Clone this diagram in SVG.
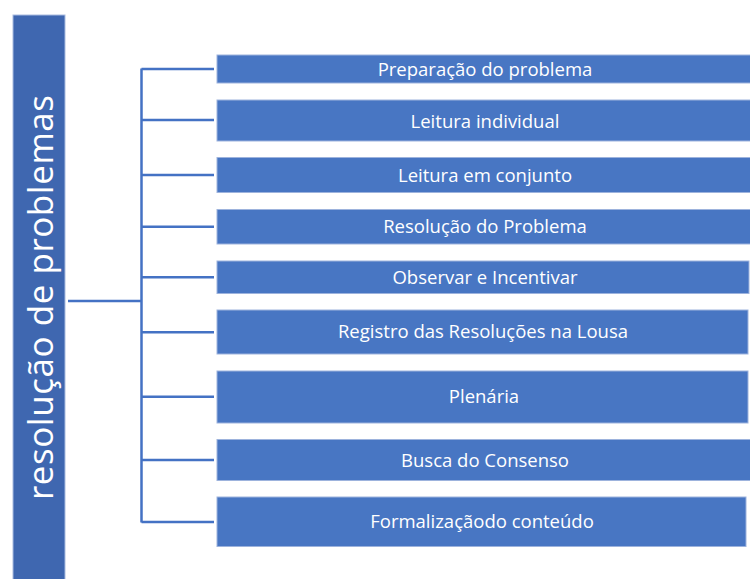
<svg xmlns="http://www.w3.org/2000/svg" width="750" height="579" viewBox="0 0 750 579">
<style>
.box{fill:#4876C3;stroke:#9DB3DD;stroke-width:1}
.lbl{font-family:"Open Sans","Liberation Sans",sans-serif;font-size:18.5px;fill:#ffffff;text-anchor:middle}
.ttl{font-family:"Open Sans","Liberation Sans",sans-serif;font-size:35px;fill:#ffffff;text-anchor:middle}
.con{stroke:#4472C4;stroke-width:2.5;fill:none}
</style>
<rect width="750" height="579" fill="#ffffff"/>
<g id="root">
<rect x="13" y="15" width="52" height="570" fill="#3F67B0" stroke="#A9BCE0" stroke-width="1"/>
<text class="ttl" transform="translate(52.5,297.5) rotate(-90)" textLength="405" lengthAdjust="spacing">resolução de problemas</text>
</g>
<g id="connectors">
<path class="con" d="M68 301H141.5M141.5 68.5V522.5M141.5 69H214M141.5 120H214M141.5 175H214M141.5 226.7H214M141.5 277.3H214M141.5 332.3H214M141.5 396.7H214M141.5 460H214M141.5 522H214"/>
</g>
<g id="n1"><rect class="box" x="217" y="55" width="536" height="28"/><text class="lbl" x="485" y="76">Preparação do problema</text></g>
<g id="n2"><rect class="box" x="217" y="100" width="536" height="41"/><text class="lbl" x="485" y="127.5">Leitura individual</text></g>
<g id="n3"><rect class="box" x="217" y="157.5" width="536" height="35"/><text class="lbl" x="485" y="181.5">Leitura em conjunto</text></g>
<g id="n4"><rect class="box" x="217" y="209.5" width="536" height="34.5"/><text class="lbl" x="485" y="233">Resolução do Problema</text></g>
<g id="n5"><rect class="box" x="217" y="261" width="532" height="32.5"/><text class="lbl" x="485" y="283.5">Observar e Incentivar</text></g>
<g id="n6"><rect class="box" x="217" y="310" width="531" height="44"/><text class="lbl" x="483" y="337.5">Registro das Resoluções na Lousa</text></g>
<g id="n7"><rect class="box" x="217" y="371" width="531" height="52"/><text class="lbl" x="484" y="402.5">Plenária</text></g>
<g id="n8"><rect class="box" x="217" y="439.5" width="536" height="41"/><text class="lbl" x="485" y="466.5">Busca do Consenso</text></g>
<g id="n9"><rect class="box" x="217" y="497" width="529" height="49.5"/><text class="lbl" x="482" y="527.5">Formalizaçãodo conteúdo</text></g>
</svg>
